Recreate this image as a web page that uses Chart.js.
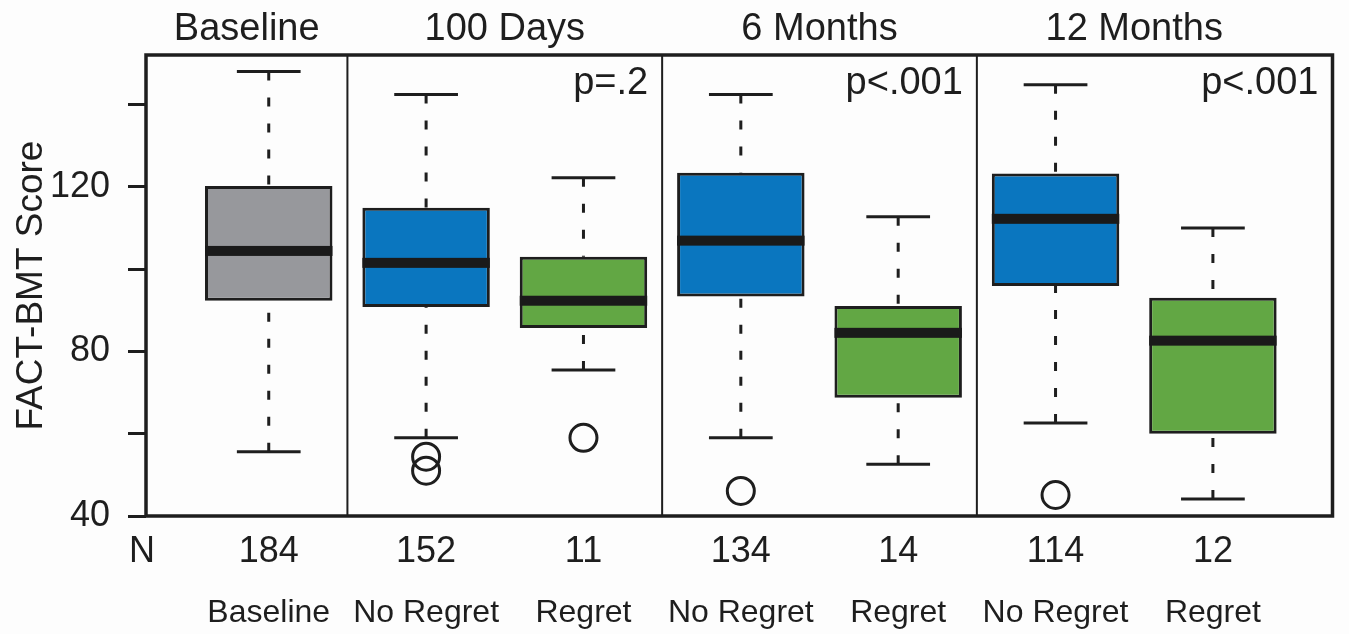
<!DOCTYPE html>
<html>
<head>
<meta charset="utf-8">
<script src="https://cdn.jsdelivr.net/npm/chart.js@4/dist/chart.umd.min.js"></script>
<style>
  html, body { margin: 0; padding: 0; background: #fdfdfd; }
  #wrap { width: 1349px; height: 634px; }
</style>
</head>
<body>
<div id="wrap"><canvas id="chart"></canvas></div>
<script>
// ── Data ──────────────────────────────────────────────────────────────────────
const positions   = [1, 2, 3, 4, 5, 6, 7];
const groupLabels = ['Baseline', 'No Regret', 'Regret', 'No Regret', 'Regret', 'No Regret', 'Regret'];
const nCounts     = ['184', '152', '11', '134', '14', '114', '12'];
const whiskerLow  = [55.6, 59.0, 75.5, 59.0, 52.6, 62.6, 44.1];
const q1          = [92.3, 90.8, 85.7, 93.3, 68.7, 95.9, 60.0];
const median      = [104.4, 101.5, 92.3, 106.9, 84.5, 112.2, 82.6];
const q3          = [120.2, 114.9, 103.0, 123.4, 91.0, 123.2, 93.0];
const whiskerHigh = [148.0, 142.4, 122.2, 142.4, 112.7, 144.8, 110.0];
const boxColors   = ['#97989c', '#0a76bf', '#62a744', '#0a76bf', '#62a744', '#0a76bf', '#62a744'];

const outlierX = [2, 2, 3, 4, 6];
const outlierY = [54.4, 51.0, 59.0, 46.1, 45.1];

const panelTitles   = ['Baseline', '100 Days', '6 Months', '12 Months'];
const panelTitleX   = [0.86, 2.5, 4.5, 6.5];
const panelDividers = [1.5, 3.5, 5.5];
const pValues       = ['', 'p=.2', 'p<.001', 'p<.001'];
const panelRight    = [1.5, 3.5, 5.5, 7.76];

const yTickValues = [40, 60, 80, 100, 120, 140];
const yTicksShown = [40, 80, 120];

const INK = '#1e1e1e';
const FONT = '"Liberation Sans", Arial, sans-serif';

// ── Box parts: whiskers, caps, medians, frame, texts ─────────────────────────
const boxPlugin = {
  id: 'boxParts',
  beforeDatasetsDraw(chart) {
    const { ctx, scales: { y } } = chart;
    const meta = chart.getDatasetMeta(0);
    ctx.save();
    ctx.strokeStyle = INK;
    ctx.lineWidth = 3;
    meta.data.forEach((bar, i) => {
      const cx = bar.x;
      const capHalf = bar.width / 4;
      const yHi = y.getPixelForValue(whiskerHigh[i]);
      const yQ3 = y.getPixelForValue(q3[i]);
      const yLo = y.getPixelForValue(whiskerLow[i]);
      const yQ1 = y.getPixelForValue(q1[i]);
      // dashed stems
      ctx.setLineDash([9, 17]);
      ctx.beginPath();
      ctx.moveTo(cx, yHi); ctx.lineTo(cx, yQ3);
      ctx.moveTo(cx, yLo); ctx.lineTo(cx, yQ1);
      ctx.stroke();
      // caps
      ctx.setLineDash([]);
      ctx.beginPath();
      ctx.moveTo(cx - capHalf, yHi); ctx.lineTo(cx + capHalf, yHi);
      ctx.moveTo(cx - capHalf, yLo); ctx.lineTo(cx + capHalf, yLo);
      ctx.stroke();
    });
    ctx.restore();
  },
  afterDatasetsDraw(chart) {
    const { ctx, chartArea: a, scales: { x, y } } = chart;
    const meta = chart.getDatasetMeta(0);
    ctx.save();
    // medians
    ctx.fillStyle = '#1a1a1a';
    meta.data.forEach((bar, i) => {
      const ym = y.getPixelForValue(median[i]);
      ctx.fillRect(bar.x - bar.width / 2, ym - 5, bar.width, 10);
    });
    // dividers
    ctx.strokeStyle = INK;
    ctx.lineWidth = 2;
    ctx.beginPath();
    panelDividers.forEach(v => {
      const px = x.getPixelForValue(v);
      ctx.moveTo(px, a.top); ctx.lineTo(px, a.bottom);
    });
    ctx.stroke();
    // frame
    ctx.lineWidth = 3.5;
    ctx.strokeRect(a.left, a.top, a.right - a.left, a.bottom - a.top);
    ctx.restore();
  },
  afterDraw(chart) {
    const { ctx, scales: { x } } = chart;
    ctx.save();
    ctx.fillStyle = INK;
    ctx.textBaseline = 'alphabetic';
    // panel titles
    ctx.font = `38px ${FONT}`;
    ctx.textAlign = 'center';
    panelTitles.forEach((t, i) => ctx.fillText(t, x.getPixelForValue(panelTitleX[i]), 40));
    // p-values
    ctx.textAlign = 'right';
    pValues.forEach((t, i) => {
      if (t) ctx.fillText(t, x.getPixelForValue(panelRight[i]) - 14, 94);
    });
    // N row
    ctx.font = `36px ${FONT}`;
    ctx.textAlign = 'center';
    ctx.fillText('N', 142, 562);
    nCounts.forEach((t, i) => ctx.fillText(t, x.getPixelForValue(positions[i]), 562));
    // group labels
    ctx.font = `32px ${FONT}`;
    groupLabels.forEach((t, i) => ctx.fillText(t, x.getPixelForValue(positions[i]), 622));
    ctx.restore();
  }
};

// ── Chart ─────────────────────────────────────────────────────────────────────
new Chart(document.getElementById('chart'), {
  type: 'bar',
  data: {
    datasets: [
      {
        label: 'IQR',
        data: positions.map((p, i) => ({ x: p, y: [q1[i], q3[i]] })),
        backgroundColor: boxColors,
        borderColor: INK,
        borderWidth: 3,
        borderSkipped: false,
        barPercentage: 0.81,
        categoryPercentage: 1.0
      },
      {
        type: 'scatter',
        label: 'Outliers',
        data: outlierX.map((p, i) => ({ x: p, y: outlierY[i] })),
        pointStyle: 'circle',
        pointRadius: 13.5,
        pointBorderWidth: 3,
        pointBackgroundColor: 'rgba(0,0,0,0)',
        pointBorderColor: INK
      }
    ]
  },
  options: {
    responsive: true,
    maintainAspectRatio: false,
    animation: false,
    layout: { padding: { top: 55, right: 9, bottom: 118, left: 0 } },
    plugins: { legend: { display: false }, tooltip: { enabled: false } },
    scales: {
      x: {
        type: 'linear',
        display: false,
        offset: false,
        min: 0.22,
        max: 7.76,
        afterBuildTicks: (scale) => {
          scale.ticks = positions.map(v => ({ value: v }));
        }
      },
      y: {
        min: 40,
        max: 152,
        afterFit: (scale) => { scale.width = 146; },
        afterBuildTicks: (scale) => {
          scale.ticks = yTickValues.map(v => ({ value: v }));
        },
        border: { display: false },
        grid: {
          drawOnChartArea: false,
          drawTicks: true,
          tickLength: 18,
          tickWidth: 3,
          tickColor: INK
        },
        ticks: {
          padding: 18,
          color: INK,
          font: { family: FONT, size: 36 },
          callback: (v) => yTicksShown.includes(v) ? String(v) : ''
        },
        title: {
          display: true,
          text: 'FACT-BMT Score',
          color: INK,
          font: { family: FONT, size: 37 },
          padding: { top: 10, bottom: 10 }
        }
      }
    }
  },
  plugins: [boxPlugin]
});
</script>
</body>
</html>
